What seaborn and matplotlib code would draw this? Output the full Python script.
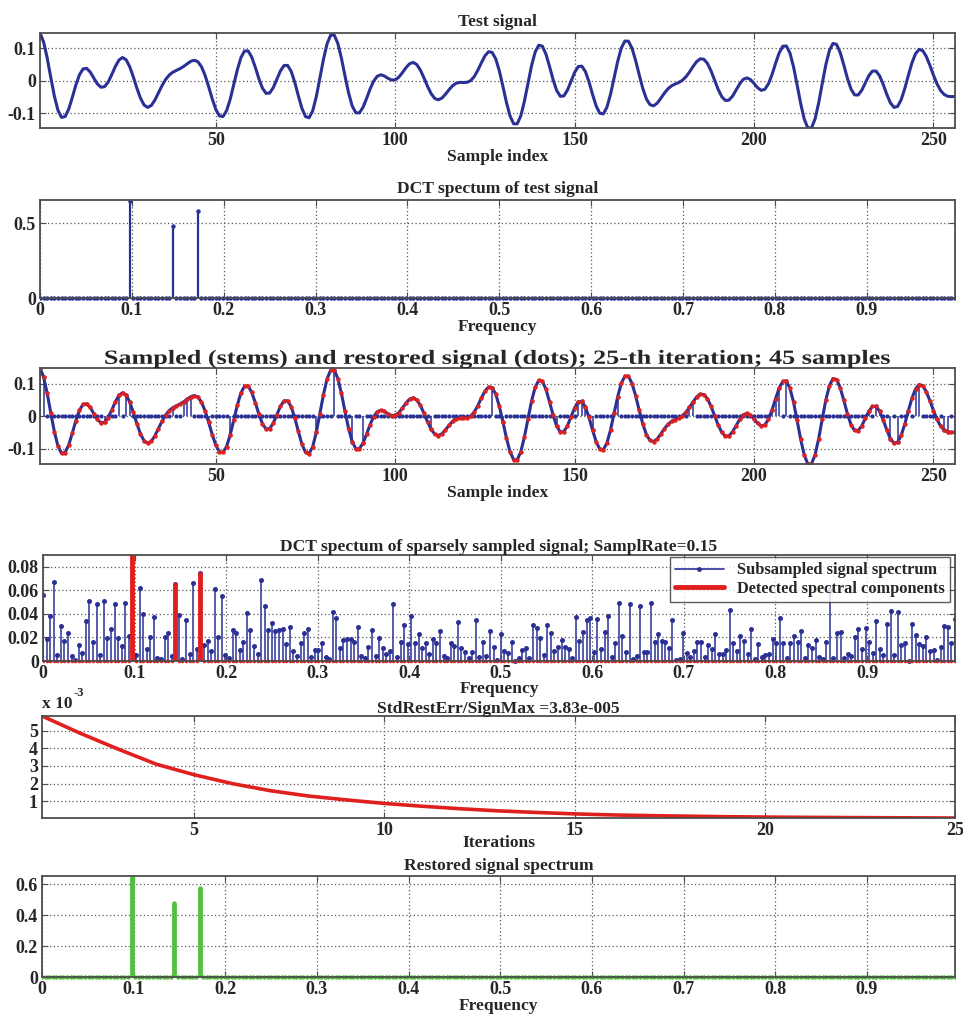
import numpy as np
import pandas as pd
import matplotlib
matplotlib.use("Agg")
from matplotlib import pyplot as plt
from matplotlib.lines import Line2D
from matplotlib.patches import Rectangle
from matplotlib.patheffects import AbstractPathEffect
from matplotlib.transforms import Affine2D
import seaborn as sns

N = 256
# DCT components of the test signal: bin index and amplitude
comp_bins = [25, 37, 44]
comp_amps = [0.65, 0.48, 0.58]
# amplitudes of the restored spectrum
restored_amps = [0.65, 0.48, 0.58]
# heights of the detected components in the subsampled spectrum
detected_amps = [0.095, 0.065, 0.075]

# 1-based indices of the 45 kept samples
sample_idx = [1, 2, 19, 23, 25, 26, 38, 41, 42, 43, 48, 54, 78,
              83, 88, 91, 110, 127, 130, 145, 151, 152, 153, 155, 161, 162,
              180, 182, 183, 205, 206, 207, 209, 232, 234, 235, 238, 240,
              243, 245, 246, 251, 253, 254, 256]

# restoration error per iteration, in units of 1e-3
iterations = list(range(1, 26))
rest_err = [5.82, 4.85, 3.95, 3.1, 2.5, 2.0, 1.6, 1.3, 1.08, 0.88, 0.72, 0.58,
            0.46, 0.37, 0.29, 0.23, 0.19, 0.16, 0.13, 0.11, 0.095, 0.083,
            0.073, 0.064, 0.057]

freq_ticks = [0, 0.1, 0.2, 0.3, 0.4, 0.5, 0.6, 0.7, 0.8, 0.9]
freq_labels = ['0', '0.1', '0.2', '0.3', '0.4', '0.5', '0.6', '0.7', '0.8', '0.9']

BLUE = '#2b3194'
RED = '#e0201e'
GREEN = '#55c040'


def dct_matrix(n):
    """Orthonormal DCT-II matrix (like matlab dct)"""
    k = np.arange(n)[:, None]
    i = np.arange(n)[None, :]
    m = np.sqrt(2.0 / n) * np.cos(np.pi * (2 * i + 1) * k / (2 * n))
    m[0, :] = np.sqrt(1.0 / n)
    return m


C = dct_matrix(N)
spectrum = np.zeros(N)
spectrum[comp_bins] = comp_amps
signal = C.T @ spectrum

rest_spec = np.zeros(N)
rest_spec[comp_bins] = restored_amps
restored = C.T @ rest_spec

mask = np.zeros(N)
mask[np.array(sample_idx) - 1] = 1
sampled = signal * mask
sub_spec = np.abs(C @ sampled)
# at the detected bins the blue stems coincide with the red ones
sub_spec[comp_bins] = detected_amps
detected = np.zeros(N)
detected[comp_bins] = detected_amps

idx = np.arange(1, N + 1)
freq = np.arange(N) / N

sig_df = pd.DataFrame({'n': idx, 'signal': signal})
err_df = pd.DataFrame({'it': iterations, 'err': rest_err})

sns.set_style("ticks")
plt.rcParams['font.family'] = ['Liberation Serif', 'DejaVu Serif']
plt.rcParams['font.weight'] = 'bold'
plt.rcParams['axes.titleweight'] = 'bold'
plt.rcParams['axes.labelweight'] = 'bold'

W, H = 963, 1021
fig = plt.figure(figsize=(W / 100, H / 100), dpi=100)
fig.patch.set_facecolor('white')

TITLE_FS = 12.6
LABEL_FS = 12.6


class Stretch(AbstractPathEffect):
    """Stretches text horizontally around a fixed x (display px)"""
    def __init__(self, sx, cx):
        super().__init__()
        self.sx = sx
        self.cx = cx

    def draw_path(self, renderer, gc, tpath, affine, rgbFace=None):
        tr = affine + Affine2D().translate(-self.cx, 0).scale(self.sx, 1).translate(self.cx, 0)
        renderer.draw_path(gc, tpath, tr, rgbFace)


def ax_at(left, top, right, bottom):
    a = fig.add_axes([left / W, 1 - bottom / H, (right - left) / W, (bottom - top) / H])
    a.grid(True, linestyle=(0, (1, 2)), color='0.35', linewidth=0.9)
    a.tick_params(direction='in', top=True, right=True, length=4,
                  labelsize=13, color='0.3', pad=3)
    for s in a.spines.values():
        s.set_color('0.3')
        s.set_linewidth(1.3)
    a.set_axisbelow(True)
    return a


def stems(ax, x, y, color, lw, ms, marker='o'):
    c = ax.stem(x, y, linefmt='-', markerfmt=marker, basefmt=' ')
    c.stemlines.set_color(color)
    c.stemlines.set_linewidth(lw)
    c.markerline.set_color(color)
    c.markerline.set_markersize(ms)
    c.markerline.set_markeredgewidth(0)
    # let the zero markers sit over the bottom spine, but keep the top clipped
    clip = Rectangle((0, -0.2), 1, 1.2, transform=ax.transAxes)
    c.markerline.set_clip_path(clip)
    return c


# 1 - test signal
ax = ax_at(40, 33, 955, 128)
sns.lineplot(data=sig_df, x='n', y='signal', ax=ax, color=BLUE, lw=2.2)
ax.set_xlim(1, N)
ax.set_ylim(signal.min(), signal.max())
ax.set_xticks([50, 100, 150, 200, 250])
ax.set_yticks([-0.1, 0, 0.1], ['-0.1', '0', '0.1'])
ax.set_title('Test signal', fontsize=TITLE_FS, pad=5)
ax.set_xlabel('Sample index', fontsize=LABEL_FS, labelpad=0)
ax.set_ylabel('')

# 2 - DCT spectrum of the test signal
ax = ax_at(40, 200, 955, 298)
stems(ax, freq, spectrum, BLUE, 1.6, 3.2)
ax.set_xlim(0, freq[-1])
ax.set_ylim(0, 0.655)
ax.set_xticks(freq_ticks, freq_labels)
ax.set_yticks([0, 0.5], ['0', '0.5'])
ax.set_title('DCT spectum of test signal', fontsize=TITLE_FS, pad=5)
ax.set_xlabel('Frequency', fontsize=LABEL_FS, labelpad=0)

# 3 - sampled and restored signal
ax = ax_at(40, 368, 955, 464)
sns.lineplot(data=sig_df, x='n', y='signal', ax=ax, color=BLUE, lw=2.2)
stems(ax, idx, sampled, BLUE, 1.1, 3.0)
ax.plot(idx, restored, 'o', color=RED, ms=3.2, mew=0)
ax.set_xlim(1, N)
ax.set_ylim(signal.min(), signal.max())
ax.set_xticks([50, 100, 150, 200, 250])
ax.set_yticks([-0.1, 0, 0.1], ['-0.1', '0', '0.1'])
t = ax.set_title('Sampled (stems) and restored signal (dots); 25-th iteration; 45 samples',
                 fontsize=14.5, pad=3)
t.set_path_effects([Stretch(1.3, (40 + 955) / 2)])
ax.set_xlabel('Sample index', fontsize=LABEL_FS, labelpad=0)
ax.set_ylabel('')

# 4 - spectrum of the sparsely sampled signal
ax = ax_at(43, 555, 955, 661)
stems(ax, freq, sub_spec, BLUE, 1.1, 3.6)
stems(ax, freq, detected, RED, 3.5, 2.6)
ax.set_xlim(0, freq[-1])
ax.set_ylim(0, 0.09)
ax.set_xticks(freq_ticks, freq_labels)
ax.set_yticks([0, 0.02, 0.04, 0.06, 0.08], ['0', '0.02', '0.04', '0.06', '0.08'])
ax.set_title('DCT spectum of sparsely sampled signal; SamplRate=0.15', fontsize=TITLE_FS, pad=3)
ax.set_xlabel('Frequency', fontsize=LABEL_FS, labelpad=-1)
handles = [Line2D([], [], color=BLUE, lw=1.2, marker='o', ms=3.5, mew=0, markevery=[1]),
           Line2D([], [], color=RED, lw=3.5)]
leg = ax.legend(handles, ['Subsampled signal spectrum', 'Detected spectral components'],
                loc='upper right', fontsize=11.8, frameon=True, fancybox=False,
                edgecolor='0.2', borderpad=0.3, labelspacing=0.15, handlelength=3,
                borderaxespad=0.15, bbox_to_anchor=(0.997, 1.0))
leg.get_frame().set_linewidth(1.0)

# 5 - restoration error vs iterations
ax = ax_at(42, 716, 955, 818)
sns.lineplot(data=err_df, x='it', y='err', ax=ax, color=RED, lw=2.6)
ax.set_xlim(1, 25)
ax.set_ylim(min(rest_err), max(rest_err))
ax.set_xticks([5, 10, 15, 20, 25])
ax.set_yticks([1, 2, 3, 4, 5])
ax.set_title('StdRestErr/SignMax =3.83e-005', fontsize=TITLE_FS, pad=2)
ax.set_xlabel('Iterations', fontsize=LABEL_FS, labelpad=-3)
ax.set_ylabel('')
ax.text(0.0, 1.04, 'x 10', transform=ax.transAxes, fontsize=12.5, ha='left', va='bottom')
ax.text(0.034, 1.17, '-3', transform=ax.transAxes, fontsize=9, ha='left', va='bottom')

# 6 - restored spectrum
ax = ax_at(42, 876, 955, 977)
stems(ax, freq, rest_spec, GREEN, 3.5, 3.2)
ax.set_xlim(0, freq[-1])
ax.set_ylim(0, 0.655)
ax.set_xticks(freq_ticks, freq_labels)
ax.set_yticks([0, 0.2, 0.4, 0.6], ['0', '0.2', '0.4', '0.6'])
ax.set_title('Restored signal spectrum', fontsize=TITLE_FS, pad=4)
ax.set_xlabel('Frequency', fontsize=LABEL_FS, labelpad=0)

fig.savefig('out.png', dpi=100, facecolor='white')
